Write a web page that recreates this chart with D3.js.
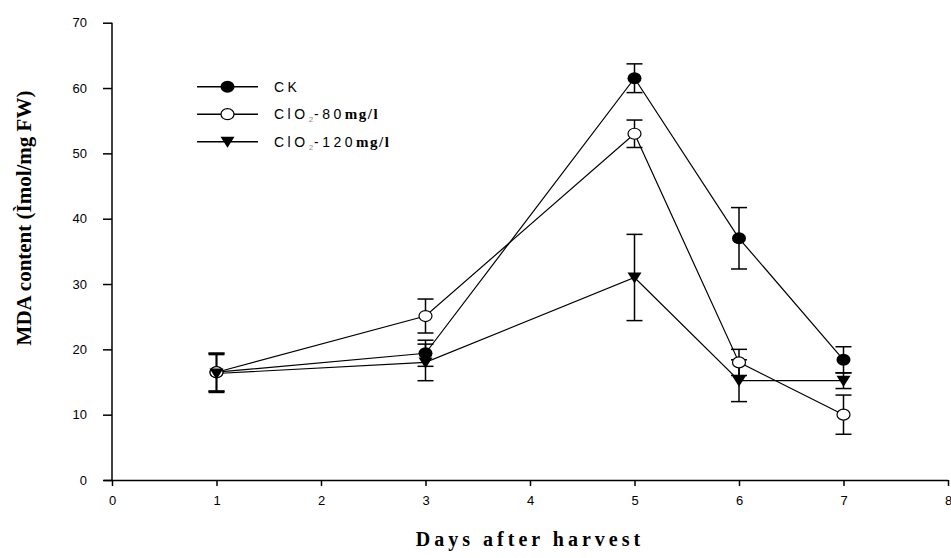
<!DOCTYPE html>
<html>
<head>
<meta charset="utf-8">
<script src="https://cdn.jsdelivr.net/npm/d3@7"></script>
<style>
  body { margin: 0; background: #fff; }
  svg text { fill: #000; }
</style>
</head>
<body>
<div id="chart"></div>
<script>
const days = [1, 3, 5, 6, 7]
const ck = [16.5, 19.4, 61.5, 37.0, 18.4]
const ckErr = [2.9, 2.0, 2.2, 4.7, 2.0]
const clo80 = [16.5, 25.1, 53.0, 18.0, 10.0]
const clo80Err = [2.9, 2.6, 2.1, 2.0, 3.0]
const clo120 = [16.3, 18.0, 31.0, 15.2, 15.2]
const clo120Err = [2.9, 2.8, 6.6, 3.2, 1.2]
const xTicks = [0, 1, 2, 3, 4, 5, 6, 7, 8]
const yTicks = [0, 10, 20, 30, 40, 50, 60, 70]

const margin = { top: 22.7, right: 3, bottom: 78, left: 112 }
const width = 951
const height = 558

const svg = d3.select('#chart')
  .append('svg')
  .attr('width', width)
  .attr('height', height)

const x = d3.scaleLinear().domain([0, 8]).range([margin.left, width - margin.right])
const y = d3.scaleLinear().domain([0, 70]).range([height - margin.bottom, margin.top])

// axes
const xAxis = svg.append('g')
  .attr('transform', 'translate(0,' + y(0) + ')')
  .call(d3.axisBottom(x).tickValues(xTicks).tickSize(6).tickPadding(10).tickFormat(d3.format('d')))
const yAxis = svg.append('g')
  .attr('transform', 'translate(' + x(0) + ',0)')
  .call(d3.axisLeft(y).tickValues(yTicks).tickSize(9).tickPadding(16).tickFormat(d3.format('d')))

;[xAxis, yAxis].forEach(a => {
  a.select('.domain').attr('stroke', '#000').attr('stroke-width', 1.5)
  a.selectAll('.tick line').attr('stroke', '#000').attr('stroke-width', 1.5)
  a.selectAll('.tick text')
    .attr('font-family', 'Liberation Sans, Arial, sans-serif')
    .attr('font-size', 13)
})
// d3 axis domain has outer ticks, redraw as plain lines
xAxis.select('.domain').attr('d', 'M' + (x(0) - 8) + ',0.5H' + x(8))
yAxis.select('.domain').attr('d', 'M0,' + y(0) + 'V' + y(70))

const series = [
  { name: 'CK', values: ck, err: ckErr, marker: 'filled' },
  { name: '80', values: clo80, err: clo80Err, marker: 'open' },
  { name: '120', values: clo120, err: clo120Err, marker: 'tri' }
]

const line = d3.line()
  .x((d, i) => x(days[i]))
  .y(d => y(d))

function drawMarker (g, type, cx, cy) {
  if (type === 'filled') {
    g.append('ellipse').attr('cx', cx).attr('cy', cy).attr('rx', 7).attr('ry', 6)
      .attr('fill', '#000')
  } else if (type === 'open') {
    g.append('ellipse').attr('cx', cx).attr('cy', cy).attr('rx', 6.5).attr('ry', 5.5)
      .attr('fill', '#fff').attr('stroke', '#000').attr('stroke-width', 1.2)
  } else {
    g.append('path')
      .attr('d', 'M' + (cx - 7) + ',' + (cy - 5) + 'L' + (cx + 7) + ',' + (cy - 5) + 'L' + cx + ',' + (cy + 6) + 'Z')
      .attr('fill', '#000')
  }
}

const plot = svg.append('g')

series.forEach(s => {
  plot.append('path')
    .datum(s.values)
    .attr('d', line)
    .attr('fill', 'none')
    .attr('stroke', '#000')
    .attr('stroke-width', 1.2)

  // error bars
  s.values.forEach((v, i) => {
    const cx = x(days[i])
    plot.append('line')
      .attr('x1', cx).attr('x2', cx)
      .attr('y1', y(v - s.err[i])).attr('y2', y(v + s.err[i]))
      .attr('stroke', '#000').attr('stroke-width', 1.5)
    ;[v - s.err[i], v + s.err[i]].forEach(e => {
      plot.append('line')
        .attr('x1', cx - 8).attr('x2', cx + 8)
        .attr('y1', y(e)).attr('y2', y(e))
        .attr('stroke', '#000').attr('stroke-width', 1.5)
    })
  })
})

series.forEach(s => {
  s.values.forEach((v, i) => drawMarker(plot, s.marker, x(days[i]), y(v)))
})

// legend
const legendRows = [
  { marker: 'filled', label: ['CK'] },
  { marker: 'open', label: ['ClO', '2', '-80', 'mg/l'] },
  { marker: 'tri', label: ['ClO', '2', '-120', 'mg/l'] }
]
const legend = svg.append('g')
legendRows.forEach((r, i) => {
  const ly = 86.7 + i * 27.5
  legend.append('line')
    .attr('x1', 197).attr('x2', 258)
    .attr('y1', ly).attr('y2', ly)
    .attr('stroke', '#000').attr('stroke-width', 1.5)
  drawMarker(legend, r.marker, 227.5, ly)
  const t = legend.append('text')
    .attr('x', 274).attr('y', ly + 5)
    .attr('font-family', 'Liberation Sans, Arial, sans-serif')
    .attr('font-size', 14)
    .attr('letter-spacing', 3.5)
  t.append('tspan').text(r.label[0])
  if (r.label.length > 1) {
    t.append('tspan').text(r.label[1]).attr('font-size', 8).attr('dy', 3)
      .attr('letter-spacing', 1).style('fill', '#888')
    t.append('tspan').text(r.label[2]).attr('dy', -3)
    t.append('tspan').text(r.label[3])
      .attr('font-family', 'Liberation Serif, Times New Roman, serif')
      .attr('font-weight', 'bold').attr('font-size', 15).attr('letter-spacing', 1.5)
  }
})

// axis titles
svg.append('text')
  .attr('transform', 'translate(31,218) rotate(-90)')
  .attr('text-anchor', 'middle')
  .attr('font-family', 'Liberation Serif, Times New Roman, serif')
  .attr('font-weight', 'bold')
  .attr('font-size', 21)
  .text('MDA content (Ìmol/mg FW)')

svg.append('text')
  .attr('x', (x(0) + x(8)) / 2)
  .attr('y', 546)
  .attr('text-anchor', 'middle')
  .attr('font-family', 'Liberation Serif, Times New Roman, serif')
  .attr('font-weight', 'bold')
  .attr('font-size', 20)
  .attr('letter-spacing', 4)
  .text('Days after harvest')
</script>
</body>
</html>
